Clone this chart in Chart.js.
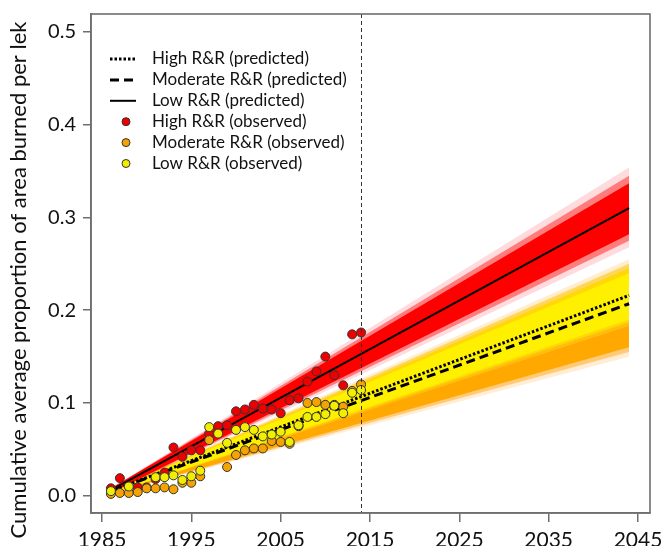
<!DOCTYPE html>
<html>
<head>
<meta charset="utf-8">
<script src="https://cdn.jsdelivr.net/npm/chart.js@4.4.1/dist/chart.umd.min.js"></script>
<style>
  html, body { margin: 0; padding: 0; background: #ffffff; }
  canvas { display: block; }
</style>
</head>
<body>
<canvas id="chart" width="661" height="546"></canvas>
<script>
// ---- observed cumulative burned proportion per lek, 1986-2014 ----
const obsYears = [1986, 1987, 1988, 1989, 1990, 1991, 1992, 1993, 1994, 1995,
                  1996, 1997, 1998, 1999, 2000, 2001, 2002, 2003, 2004, 2005,
                  2006, 2007, 2008, 2009, 2010, 2011, 2012, 2013, 2014];
const highObserved = [0.008, 0.019, 0.010, 0.009, 0.009, 0.018, 0.025, 0.052, 0.042, 0.049,
                      0.049, 0.067, 0.075, 0.076, 0.091, 0.093, 0.098, 0.094, 0.093, 0.089,
                      0.103, 0.105, 0.123, 0.134, 0.150, 0.130, 0.119, 0.174, 0.176];
const moderateObserved = [0.002, 0.003, 0.003, 0.004, 0.008, 0.008, 0.009, 0.007, 0.014, 0.014,
                          0.021, 0.060, null, 0.031, 0.044, 0.049, 0.051, 0.051, 0.059, 0.058,
                          0.056, 0.075, 0.100, 0.101, 0.098, 0.098, 0.096, 0.113, 0.120];
const lowObserved = [0.005, null, 0.010, null, null, 0.020, 0.020, 0.022, 0.017, 0.021,
                     0.027, 0.074, 0.067, 0.057, 0.071, 0.074, 0.071, 0.064, 0.066, 0.069,
                     0.058, 0.076, 0.085, 0.085, 0.088, 0.097, 0.089, 0.111, 0.114];

// ---- predicted trends (start / end of projection) ----
const predYears = [1986, 2044];
const highPredicted = [0.005, 0.216];
const moderatePredicted = [0.005, 0.207];
const lowPredicted = [0.006, 0.310];

// ---- posterior envelopes: [lower, upper] at start and end, outer -> inner ----
const redOuterLo = [0.003, 0.268], redOuterHi = [0.008, 0.354];
const redMidLo   = [0.003, 0.275], redMidHi   = [0.008, 0.345];
const redInnerLo = [0.003, 0.282], redInnerHi = [0.008, 0.337];
const yelOuterLo = [0.002, 0.183], yelOuterHi = [0.006, 0.251];
const yelMidLo   = [0.002, 0.187], yelMidHi   = [0.006, 0.245];
const yelInnerLo = [0.002, 0.190], yelInnerHi = [0.006, 0.240];
const orgOuterLo = [0.002, 0.150], orgOuterHi = [0.006, 0.255];
const orgMidLo   = [0.002, 0.155], orgMidHi   = [0.006, 0.250];
const orgInnerLo = [0.002, 0.160], orgInnerHi = [0.006, 0.245];

// ---- axes ----
const xTicks = [1985, 1995, 2005, 2015, 2025, 2035, 2045];
const yTicks = [0.0, 0.1, 0.2, 0.3, 0.4, 0.5];
const refYear = 2014;
const yTitle = 'Cumulative average proportion of area burned per lek';
const legendLabels = ['High R&R (predicted)', 'Moderate R&R (predicted)', 'Low R&R (predicted)',
                      'High R&R (observed)', 'Moderate R&R (observed)', 'Low R&R (observed)'];

const toPts = (xs, ys) => xs.map((x, i) => ({ x: x, y: ys[i] })).filter(p => p.y !== null);

const datasets = [];
let drawOrder = 100;
function addBand(lo, hi, color) {
  const loIndex = datasets.length;
  datasets.push({ type: 'line', data: toPts(predYears, lo), borderWidth: 0, pointRadius: 0,
                  fill: false, order: drawOrder, borderColor: 'rgba(0,0,0,0)' });
  datasets.push({ type: 'line', data: toPts(predYears, hi), borderWidth: 0, pointRadius: 0,
                  fill: { target: loIndex }, backgroundColor: color, order: drawOrder - 1,
                  borderColor: 'rgba(0,0,0,0)' });
  drawOrder -= 2;
}
addBand(orgOuterLo, orgOuterHi, 'rgba(255,175,60,0.22)');
addBand(orgMidLo, orgMidHi, 'rgba(255,170,30,0.5)');
addBand(orgInnerLo, orgInnerHi, '#ffa800');
addBand(yelOuterLo, yelOuterHi, 'rgba(255,240,40,0.3)');
addBand(yelMidLo, yelMidHi, 'rgba(255,238,0,0.55)');
addBand(yelInnerLo, yelInnerHi, '#fff000');
addBand(redOuterLo, redOuterHi, 'rgba(255,90,100,0.22)');
addBand(redMidLo, redMidHi, 'rgba(255,30,30,0.5)');
addBand(redInnerLo, redInnerHi, '#ff0000');

const lineStyles = [
  { label: legendLabels[0], values: highPredicted, dash: [2.5, 2], width: 3 },
  { label: legendLabels[1], values: moderatePredicted, dash: [9, 5], width: 3 },
  { label: legendLabels[2], values: lowPredicted, dash: [], width: 2 }
];
lineStyles.forEach(s => {
  datasets.push({ type: 'line', label: s.label, data: toPts(predYears, s.values),
                  borderColor: '#000', borderWidth: s.width, borderDash: s.dash,
                  pointRadius: 0, fill: false, order: drawOrder-- });
});

const pointStyles = [
  { label: legendLabels[3], values: highObserved, color: '#ee0000' },
  { label: legendLabels[4], values: moderateObserved, color: '#f5a300' },
  { label: legendLabels[5], values: lowObserved, color: '#f2ee00' }
];
pointStyles.forEach(s => {
  datasets.push({ type: 'scatter', label: s.label, data: toPts(obsYears, s.values),
                  backgroundColor: s.color, borderColor: '#333', borderWidth: 1,
                  pointRadius: 4.5, showLine: false, order: drawOrder-- });
});

// frame, reference year, rotated axis title and legend
const decor = {
  id: 'decor',
  afterDatasetsDraw(chart) {
    const { ctx, chartArea: a, scales } = chart;
    ctx.save();
    // reference year
    const rx = Math.round(scales.x.getPixelForValue(refYear)) + 0.5;
    ctx.strokeStyle = '#333';
    ctx.lineWidth = 1;
    ctx.setLineDash([4, 3]);
    ctx.beginPath();
    ctx.moveTo(rx, a.top);
    ctx.lineTo(rx, a.bottom);
    ctx.stroke();
    ctx.setLineDash([]);
    // box
    ctx.strokeStyle = '#6e6e6e';
    ctx.lineWidth = 1.6;
    ctx.strokeRect(a.left, a.top, a.right - a.left, a.bottom - a.top);
    // legend
    const lx = a.left + 19, tx = a.left + 61;
    let ly = a.top + 45;
    const step = 20.9;
    ctx.font = '17px Lato';
    ctx.textBaseline = 'middle';
    ctx.textAlign = 'left';
    lineStyles.forEach(s => {
      ctx.strokeStyle = '#000';
      ctx.lineWidth = s.width;
      ctx.setLineDash(s.dash);
      ctx.beginPath();
      ctx.moveTo(lx, ly);
      ctx.lineTo(lx + 26, ly);
      ctx.stroke();
      ctx.setLineDash([]);
      ctx.fillStyle = '#111';
      ctx.fillText(s.label, tx, ly);
      ly += step;
    });
    pointStyles.forEach(s => {
      ctx.beginPath();
      ctx.arc(lx + 16, ly, 4, 0, Math.PI * 2);
      ctx.fillStyle = s.color;
      ctx.fill();
      ctx.strokeStyle = '#333';
      ctx.lineWidth = 1;
      ctx.stroke();
      ctx.fillStyle = '#111';
      ctx.fillText(s.label, tx, ly);
      ly += step;
    });
    // y-axis title
    ctx.translate(19, 280);
    ctx.rotate(-Math.PI / 2);
    ctx.textAlign = 'center';
    ctx.font = '22px Lato';
    ctx.fillStyle = '#111';
    ctx.fillText(yTitle, 0, 0);
    ctx.restore();
  }
};

new Chart(document.getElementById('chart'), {
  data: { datasets: datasets },
  options: {
    responsive: false,
    animation: false,
    devicePixelRatio: 1,
    layout: { padding: { left: 0, right: 11, top: 14, bottom: 0 } },
    plugins: { legend: { display: false }, tooltip: { enabled: false } },
    scales: {
      x: {
        type: 'linear', min: 1983.77, max: 2046.34,
        afterBuildTicks: s => { s.ticks = xTicks.map(v => ({ value: v })); },
        afterFit: s => { s.height = 33; s.paddingLeft = 0; s.paddingRight = 0; },
        ticks: { font: { family: 'Lato', size: 21 }, color: '#111', padding: 6,
                 maxRotation: 0, autoSkip: false, callback: v => String(v) },
        grid: { drawOnChartArea: false, tickLength: 9, color: '#6e6e6e', lineWidth: 1.5 },
        border: { color: '#6e6e6e', width: 1.6 }
      },
      y: {
        type: 'linear', min: -0.0186, max: 0.5194,
        afterBuildTicks: s => { s.ticks = yTicks.map(v => ({ value: v })); },
        afterFit: s => { s.width = 91; s.paddingTop = 0; s.paddingBottom = 0; },
        ticks: { font: { family: 'Lato', size: 20 }, color: '#111', padding: 7,
                 autoSkip: false, callback: v => Number(v).toFixed(1) },
        grid: { drawOnChartArea: false, tickLength: 8, color: '#6e6e6e', lineWidth: 1.5 },
        border: { color: '#6e6e6e', width: 1.6 }
      }
    }
  },
  plugins: [decor]
});
</script>
</body>
</html>
